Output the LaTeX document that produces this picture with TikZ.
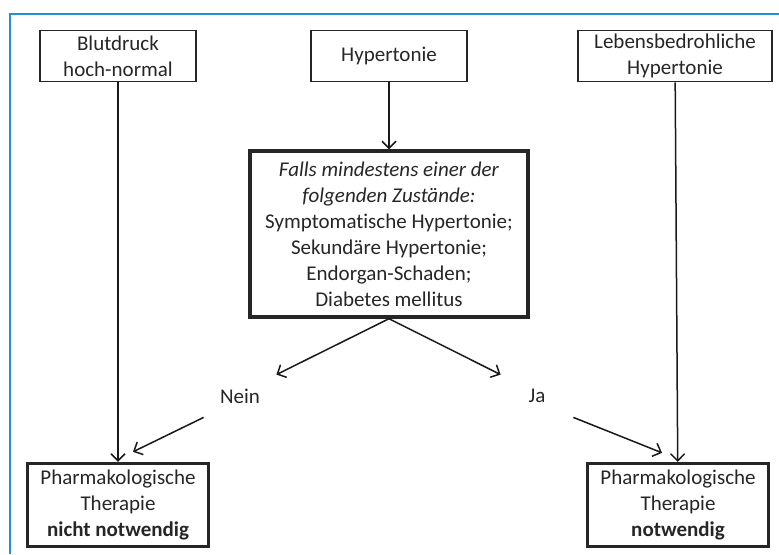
\documentclass[tikz,border=0pt]{standalone}
\usepackage{fontspec}
\setmainfont[Ligatures={NoCommon,NoContextual},Contextuals=NoAlternate]{Carlito}
\usetikzlibrary{%
	positioning,
	arrows.meta
}
\definecolor{framebl}{RGB}{36,142,210}

\begin{document}
\begin{tikzpicture}[
		x=0.5pt,y=-0.5pt,
		font=\fontsize{10.5}{13}\selectfont,
		SBox/.style={draw=black!85,text=black!85,line width=0.8pt,shape=rectangle,align=center,inner sep=0pt,minimum width=78pt,minimum height=25.5pt},
		SThick/.style={draw=black!85,text=black!85,line width=1.7pt,shape=rectangle,align=center,inner sep=0pt},
		answer/.style={text=black!85,inner sep=0pt,minimum width=36pt,minimum height=21pt},
	%	answer-phantom/.style={draw},
		conn/.style={-{Straight Barb[length=3.5pt,width=7pt]},line width=0.75pt,black!90}
	]
	
		\useasboundingbox (0,0) rectangle (779,554);
		\draw[framebl,line width=1.1pt] (10,554) -- (10,14) -- (779,14);
		
		\node(bp) [SBox] at (118,56) {Blutdruck\\hoch-normal};
		\node(hyp) [SBox] at (389,56) {Hypertonie};
		\node(lh) [SBox,minimum width=97pt] at (675,56) {Lebensbedrohliche\\Hypertonie};
		
		\node(mid) [SThick,minimum width=139pt,minimum height=83pt,below= 33.5pt of hyp] {\textit{Falls mindestens einer der}\\\textit{folgenden Zustände:}\\Symptomatische Hypertonie;\\Sekundäre Hypertonie;\\Endorgan-Schaden;\\Diabetes mellitus};
		\draw[conn] (hyp) -- (mid);
		
		\node(nein) [answer] at (240,396) {Nein};
		\node(ja) [answer] at (537,396) {Ja};
		\draw[conn] (mid.south) -- (nein.north east);
		\draw[conn] (mid.south) -- (ja.north west);
		
		\node(lbox) [SThick,minimum width=90.5pt,minimum height=41.5pt] at (118,505) {Pharmakologische\\Therapie\\\textbf{nicht notwendig}};
		\node(rbox) [SThick,minimum width=90.5pt,minimum height=41.5pt] at (678,505) {Pharmakologische\\Therapie\\\textbf{notwendig}};
		
		\draw[conn] (bp) -- (lbox);
		\draw[conn] (lh) -- (rbox);
		\draw[conn] (nein.south west) -- ([shift={(15,-10)}]lbox.north);
		\draw[conn] (ja.south east) -- ([shift={(-16,-9)}]rbox.north);
		
	\end{tikzpicture}
\end{document}
